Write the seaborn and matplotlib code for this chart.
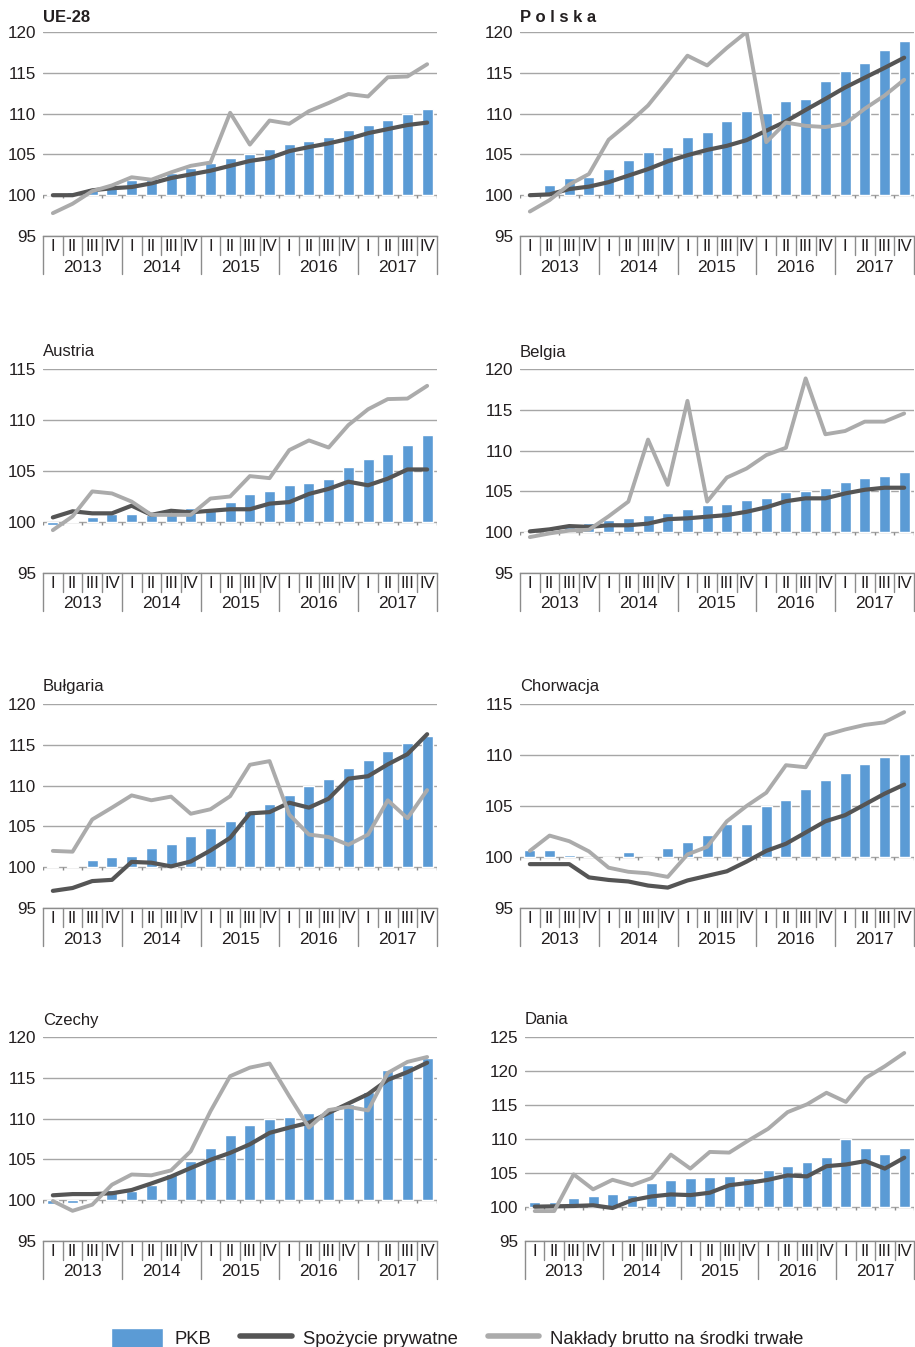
import numpy as np
import pandas as pd
import matplotlib
matplotlib.use("Agg")
import matplotlib.pyplot as plt
import seaborn as sns
from matplotlib import font_manager

# Dane (indeks, 2013 Q1 ... 2017 Q4)
quarters = ["I", "II", "III", "IV"]
years = ["2013", "2014", "2015", "2016", "2017"]
series_names = ["PKB", "Spożycie prywatne", "Nakłady brutto na środki trwałe"]

ue28_pkb = [100.1, 100.4, 100.9, 101.1, 101.85, 102.1, 102.7, 103.3, 103.95, 104.55,
            105.1, 105.65, 106.25, 106.6, 107.1, 107.95, 108.65, 109.25, 110.0, 110.6]
ue28_spoz = [100.0, 100.0, 100.6, 100.85, 101.0, 101.45, 102.1, 102.55, 103.0, 103.6,
             104.2, 104.55, 105.4, 105.9, 106.35, 106.9, 107.6, 108.1, 108.6, 108.9]
ue28_nakl = [97.8, 98.95, 100.5, 101.2, 102.2, 101.9, 102.8, 103.6, 104.0, 110.1,
             106.2, 109.15, 108.75, 110.3, 111.3, 112.4, 112.1, 114.45, 114.55, 116.05]

pl_pkb = [100.2, 101.3, 102.15, 102.25, 103.2, 104.3, 105.3, 105.9, 107.1, 107.8,
          109.15, 110.35, 110.1, 111.55, 111.8, 114.0, 115.2, 116.15, 117.85, 118.95]
pl_spoz = [100.0, 100.1, 100.75, 101.05, 101.6, 102.4, 103.2, 104.15, 104.9, 105.55,
           106.05, 106.75, 107.9, 109.05, 110.45, 111.8, 113.2, 114.4, 115.6, 116.85]
pl_nakl = [98.0, 99.4, 101.3, 102.6, 106.8, 108.8, 111.0, 114.0, 117.1, 115.9,
           118.05, 120.0, 106.5, 108.9, 108.5, 108.35, 108.75, 110.6, 112.2, 114.15]

at_pkb = [99.7, 100.1, 100.5, 100.8, 100.8, 100.7, 101.0, 101.4, 101.2, 102.0,
          102.7, 103.0, 103.65, 103.85, 104.25, 105.4, 106.2, 106.7, 107.5, 108.5]
at_spoz = [100.45, 101.05, 100.85, 100.85, 101.6, 100.7, 101.1, 100.95, 101.1, 101.25,
           101.25, 101.8, 101.95, 102.75, 103.25, 103.95, 103.6, 104.25, 105.15, 105.15]
at_nakl = [99.2, 100.55, 103.0, 102.8, 102.0, 100.7, 100.7, 100.7, 102.3, 102.5,
           104.5, 104.3, 107.05, 108.0, 107.3, 109.5, 111.05, 112.05, 112.1, 113.35]

be_pkb = [99.85, 100.2, 100.6, 101.15, 101.45, 101.7, 102.05, 102.3, 102.8, 103.3,
          103.4, 103.95, 104.25, 104.9, 105.0, 105.4, 106.1, 106.6, 106.85, 107.4]
be_spoz = [100.1, 100.35, 100.75, 100.65, 100.85, 100.85, 101.05, 101.6, 101.7, 101.9,
           102.1, 102.5, 103.05, 103.8, 104.15, 104.15, 104.75, 105.2, 105.45, 105.45]
be_nakl = [99.4, 99.85, 100.2, 100.3, 101.95, 103.75, 111.35, 105.8, 116.1, 103.75,
           106.7, 107.8, 109.45, 110.35, 118.85, 112.0, 112.4, 113.55, 113.55, 114.55]

bg_pkb = [100.15, 100.15, 100.9, 101.3, 101.4, 102.3, 102.8, 103.8, 104.8, 105.65,
          106.9, 107.75, 108.9, 110.0, 110.75, 112.1, 113.1, 114.25, 115.25, 116.1]
bg_spoz = [97.1, 97.45, 98.3, 98.45, 100.65, 100.55, 100.1, 100.7, 102.05, 103.6,
           106.6, 106.75, 107.9, 107.3, 108.4, 110.85, 111.15, 112.6, 113.85, 116.3]
bg_nakl = [102.0, 101.9, 105.85, 107.3, 108.8, 108.2, 108.65, 106.55, 107.1, 108.7,
           112.55, 113.0, 106.45, 104.0, 103.7, 102.75, 104.0, 108.2, 106.0, 109.45]

hr_pkb = [100.7, 100.7, 100.15, 100.0, 99.95, 100.45, 99.9, 100.85, 101.45, 102.2,
          103.2, 103.2, 105.0, 105.6, 106.7, 107.5, 108.2, 109.1, 109.85, 110.05]
hr_spoz = [99.3, 99.3, 99.3, 98.0, 97.75, 97.6, 97.2, 97.0, 97.7, 98.15,
           98.6, 99.55, 100.6, 101.3, 102.4, 103.5, 104.1, 105.15, 106.2, 107.1]
hr_nakl = [100.6, 102.1, 101.55, 100.55, 98.95, 98.55, 98.4, 98.05, 100.25, 101.0,
           103.5, 105.0, 106.3, 109.0, 108.8, 111.95, 112.5, 112.95, 113.2, 114.2]

cz_pkb = [99.55, 99.6, 99.9, 101.3, 101.1, 101.9, 103.15, 104.8, 106.35, 107.95,
          109.2, 110.0, 110.25, 110.65, 111.0, 111.8, 113.3, 115.9, 116.55, 117.4]
cz_spoz = [100.6, 100.75, 100.75, 100.85, 101.25, 102.05, 102.9, 103.95, 104.95, 105.8,
           106.85, 108.25, 108.9, 109.5, 110.7, 111.85, 113.0, 114.75, 115.7, 116.85]
cz_nakl = [99.9, 98.7, 99.45, 101.9, 103.15, 103.05, 103.65, 106.0, 110.9, 115.2,
           116.25, 116.75, 112.75, 108.9, 111.05, 111.45, 111.0, 115.6, 116.95, 117.55]

dk_pkb = [100.7, 100.7, 101.3, 101.55, 101.9, 101.75, 103.5, 103.95, 104.2, 104.35,
          104.5, 104.2, 105.45, 106.1, 106.6, 107.3, 110.05, 108.65, 107.75, 108.65]
dk_spoz = [100.05, 100.1, 100.15, 100.25, 99.85, 101.0, 101.55, 101.85, 101.75, 102.1,
           103.2, 103.55, 104.0, 104.65, 104.5, 106.0, 106.25, 106.75, 105.65, 107.25]
dk_nakl = [99.4, 99.4, 104.8, 102.6, 104.0, 103.2, 104.25, 107.7, 105.65, 108.1,
           108.0, 109.8, 111.5, 113.95, 115.1, 116.8, 115.45, 118.95, 120.7, 122.65]

panels = [
    ("UE-28", ue28_pkb, ue28_spoz, ue28_nakl, 120),
    ("P o l s k a", pl_pkb, pl_spoz, pl_nakl, 120),
    ("Austria", at_pkb, at_spoz, at_nakl, 115),
    ("Belgia", be_pkb, be_spoz, be_nakl, 120),
    ("Bułgaria", bg_pkb, bg_spoz, bg_nakl, 120),
    ("Chorwacja", hr_pkb, hr_spoz, hr_nakl, 115),
    ("Czechy", cz_pkb, cz_spoz, cz_nakl, 120),
    ("Dania", dk_pkb, dk_spoz, dk_nakl, 125),
]

# Styl
BLUE = "#5B9BD5"
DARK = "#555555"
LIGHT = "#ABABAB"
GRID = "#A6A6A6"
SEP = "#8C8C8C"
TXT = "#231F20"

sns.set_theme(style="white")
plt.rcParams["font.family"] = ["Liberation Sans", "DejaVu Sans"]
plt.rcParams["text.color"] = TXT
plt.rcParams["axes.labelcolor"] = TXT
plt.rcParams["xtick.color"] = TXT
plt.rcParams["ytick.color"] = TXT

available = {f.name for f in font_manager.fontManager.ttflist}
if "Liberation Sans Narrow" in available:
    legend_font = dict(family="Liberation Sans Narrow", size=15.5)
else:
    legend_font = dict(family="Liberation Sans", size=13.3)

W, H = 915, 1347
fig = plt.figure(figsize=(W / 100, H / 100), dpi=100)

# pozycje paneli w pikselach: (lewo, góra osi)
col_left = [43, 520]
row_top = [32, 369, 704, 1037]
AX_W, AX_H = 394, 204

for k, (title, pkb, spoz, nakl, ymax) in enumerate(panels):
    r, c = divmod(k, 2)
    left = col_left[c] + (5 if title == "Dania" else 0)
    width = AX_W - (5 if title == "Dania" else 0)
    top = row_top[r]
    ax = fig.add_axes([left / W, 1 - (top + AX_H) / H, width / W, AX_H / H])

    df = pd.DataFrame({"t": np.arange(20), "pkb": pkb, "spoz": spoz, "nakl": nakl})
    df["d"] = df["pkb"] - 100

    sns.barplot(data=df, x="t", y="d", bottom=100, color=BLUE, saturation=1,
                width=0.56, errorbar=None, label=series_names[0], ax=ax, zorder=2)
    sns.lineplot(data=df, x="t", y="spoz", color=DARK, lw=3.0,
                 label=series_names[1], ax=ax, zorder=3)
    sns.lineplot(data=df, x="t", y="nakl", color=LIGHT, lw=2.8,
                 label=series_names[2], ax=ax, zorder=4)
    if ax.get_legend() is not None:
        ax.get_legend().remove()

    ax.set_xlim(-0.5, 19.5)
    ax.set_ylim(95, ymax)
    ax.set_yticks(np.arange(95, ymax + 1, 5))
    ax.set_yticklabels([str(v) for v in range(95, ymax + 1, 5)], fontsize=12.3)
    ax.yaxis.grid(True, color=GRID, lw=1.0)
    ax.set_axisbelow(True)
    ax.set_xlabel("")
    ax.set_ylabel("")
    ax.set_xticks(np.arange(20))
    ax.set_xticklabels(quarters * 5, fontsize=12)
    ax.tick_params(axis="both", length=0)
    ax.tick_params(axis="x", pad=2)
    ax.tick_params(axis="y", pad=5)
    for s in ["left", "right", "top"]:
        ax.spines[s].set_visible(False)
    ax.spines["bottom"].set_color(SEP)
    ax.spines["bottom"].set_linewidth(1.0)

    # separatory kategorii pod osią
    tr = ax.get_xaxis_transform()
    bounds = np.arange(-0.5, 20, 1)
    for b in bounds:
        is_year = int(b + 0.5) % 4 == 0
        ylow = -38 / AX_H if is_year else -19 / AX_H
        ax.plot([b, b], [0, ylow], transform=tr, color=SEP, lw=1.0, clip_on=False)
    # drobne znaczniki na linii 100
    d = 3 * (ymax - 95) / AX_H
    ax.vlines(bounds, 100 - d, 100, color=SEP, lw=1.0, zorder=1)
    for i, y in enumerate(years):
        ax.text(4 * i + 1.5, -31 / AX_H, y, transform=tr, ha="center", va="center",
                fontsize=12.5)

    bold = k < 2
    ax.text(0.0, 1 + 14 / AX_H if r == 0 else 1 + 17 / AX_H,
            title, transform=ax.transAxes, ha="left", va="center", fontsize=12,
            fontweight="bold" if bold else "normal")

    if k == 0:
        h_all, l_all = ax.get_legend_handles_labels()
        handles = [h_all[l_all.index(n)] for n in series_names]
        labels = list(series_names)

leg = fig.legend(handles, labels, loc="center", bbox_to_anchor=(0.5, 1 - 1338 / H),
                 ncol=3, frameon=False, prop=legend_font, handlelength=2.8,
                 handleheight=1.3, handletextpad=0.6, columnspacing=1.6,
                 borderpad=0.2)
for h in leg.legend_handles:
    if hasattr(h, "set_linewidth") and not hasattr(h, "get_facecolor"):
        h.set_linewidth(4)

fig.savefig("out.png", dpi=100)
